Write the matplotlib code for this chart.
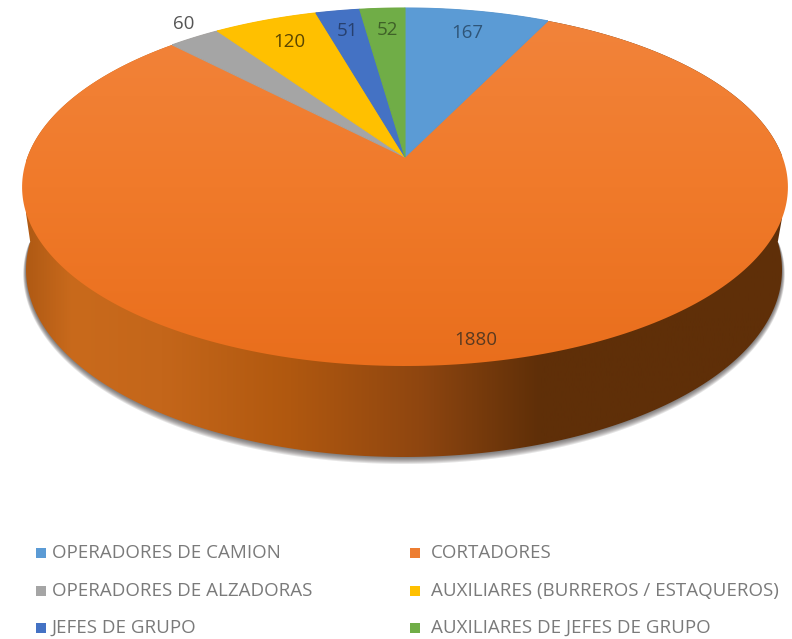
import numpy as np
import matplotlib
matplotlib.use('Agg')
import matplotlib.pyplot as plt
from matplotlib.patches import Polygon
from matplotlib.colors import LinearSegmentedColormap

# data, clockwise from 12 o'clock
categories = ['OPERADORES DE CAMION', 'CORTADORES', 'OPERADORES DE ALZADORAS',
              'AUXILIARES (BURREROS / ESTAQUEROS)', 'JEFES DE GRUPO',
              'AUXILIARES DE JEFES DE GRUPO']
values = [167, 1880, 60, 120, 51, 52]
colors = ['#5B9BD5', '#ED7D31', '#A5A5A5', '#FFC000', '#4472C4', '#70AD47']
label_xy = [(467, 33), (476, 340), (184, 24), (289, 42), (347, 31), (387, 30)]
label_colors = ['#2f5578', '#5a3a20', '#555555', '#5a4500', '#27406f', '#3f6128']

# perspective disc -> pixels, picked so apex/top/bottom land where they do in the picture
CX, R, C = 405.0, 377.5, 0.1676
A, B = -147.66, 157.0


def project(theta):
    u, v = np.sin(theta), np.cos(theta)
    w = 1 + C * v
    return CX + R * u / w, (A * v + B) / w


plt.rcParams['font.family'] = ['Open Sans', 'DejaVu Sans']
fig = plt.figure(figsize=(7.92, 6.39), dpi=100)
ax = fig.add_axes([0, 0, 1, 1])
ax.set_xlim(0, 792)
ax.set_ylim(639, 0)
ax.axis('off')

t = np.linspace(0, 2 * np.pi, 721)
top_x, top_y = project(t)
left, right = np.argmin(top_x), np.argmax(top_x)

# lower rim of the disc
bx, by, brx, bry = 404.0, 270.0, 378.0, 187.0
s = np.linspace(-0.15, np.pi + 0.15, 361)
low_x, low_y = bx + brx * np.cos(s), by + bry * np.sin(s)
upper = np.r_[t[left:], t[:right]]
hull = np.c_[np.r_[low_x, project(upper)[0]], np.r_[low_y, project(upper)[1]]]

# soft shadow round the rim, tapering away at both ends
taper = np.clip(np.sin(s) + 0.15, 0, 1) ** 0.5
for grow in range(7, 0, -1):
    ax.fill(bx + (brx + grow * taper) * np.cos(s), by + (bry + grow * taper) * np.sin(s),
            color='#3f3a38', alpha=0.13, lw=0, zorder=1)

# side wall, horizontal gradient
side_cmap = LinearSegmentedColormap.from_list('side', [
    (0.00, '#b05a14'), (0.06, '#c96a1c'), (0.18, '#c4661a'), (0.35, '#b0580f'),
    (0.52, '#8f4610'), (0.68, '#5f2f08'), (1.00, '#5f2f08')])
im = ax.imshow(np.linspace(0, 1, 256)[None, :], cmap=side_cmap, aspect='auto',
               extent=[bx - brx, bx + brx, 639, 0], zorder=2)
im.set_clip_path(Polygon(hull, transform=ax.transData))

# top face slices
angles = np.r_[0, np.cumsum(values)] / sum(values) * 2 * np.pi
for i in range(len(values)):
    th = np.linspace(angles[i], angles[i + 1], 300)
    x, y = project(th)
    poly = np.c_[np.r_[CX, x], np.r_[B, y]]
    if categories[i] == 'CORTADORES':
        # the big slice fades a little from top to bottom
        cm = LinearSegmentedColormap.from_list('o', ['#F2843C', '#F07A2A', '#E96E1C'])
        im = ax.imshow(np.linspace(0, 1, 256)[:, None], cmap=cm, aspect='auto',
                       extent=[0, 792, 370, 5], origin='upper', zorder=3)
        im.set_clip_path(Polygon(poly, transform=ax.transData))
    else:
        ax.fill(poly[:, 0], poly[:, 1], color=colors[i], lw=0.8, ec=colors[i], zorder=4)

# value labels
for v, (lx, ly), lc in zip(values, label_xy, label_colors):
    ax.text(lx, ly, str(v), ha='center', va='center', fontsize=13.5,
            color=lc, zorder=5)

# legend, filled row by row
rows = [553, 591, 628]
for i, cat in enumerate(categories):
    r, c = i // 2, i % 2
    sx, tx = (41, 52) if c == 0 else (415, 431)
    ax.scatter([sx], [rows[r]], marker='s', s=42, color=colors[i], lw=0, zorder=5)
    ax.text(tx, rows[r], cat, ha='left', va='center', fontsize=13.5,
            color='#7a7a7a', zorder=5)

ax.set_xlim(0, 792)
ax.set_ylim(639, 0)
fig.savefig('out.png', dpi=100, facecolor='white')
